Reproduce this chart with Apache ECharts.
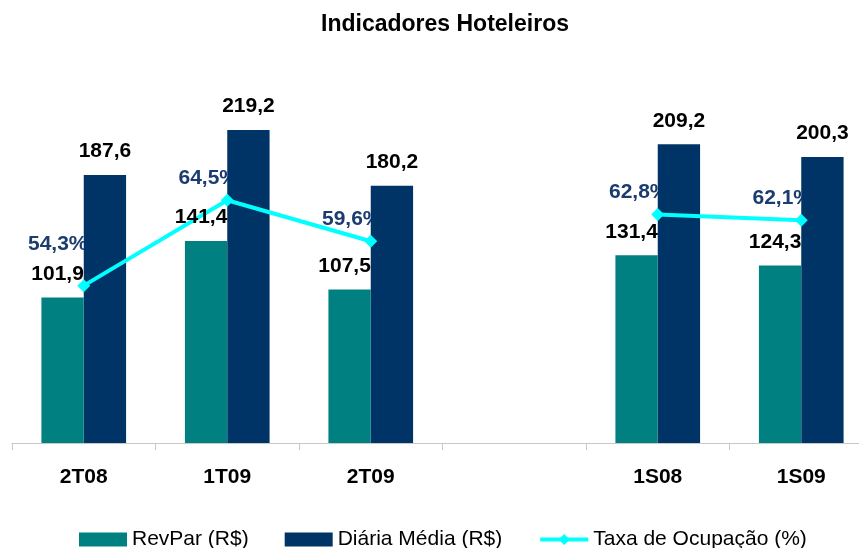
<!DOCTYPE html>
<html>
<head>
<meta charset="utf-8">
<script src="https://cdn.jsdelivr.net/npm/echarts@6/dist/echarts.min.js"></script>
<style>
  html, body { margin: 0; padding: 0; background: #fff; }
  #main { width: 859px; height: 548px; }
</style>
</head>
<body>
<div id="main"></div>
<script>
var myChart = echarts.init(document.getElementById('main'), null, {renderer: 'canvas'});

// data (4th slot is the empty gap between quarters and semesters)
var categorias = ['2T08', '1T09', '2T09', '', '1S08', '1S09'];
var revpar = [101.9, 141.4, 107.5, null, 131.4, 124.3];
var diaria = [187.6, 219.2, 180.2, null, 209.2, 200.3];
var ocupacao = [54.3, 64.5, 59.6, null, 62.8, 62.1];

var fonte = 'Liberation Sans, Arial, sans-serif';

function virgula(v) {
    return v.toFixed(1).replace('.', ',');
}

// labels for the occupancy line (drawn under the bars like the original)
var ocupLabels = ocupacao.map(function (v, i) {
    if (v === null) return null;
    return {
        value: v,
        label: {offset: i === 0 ? [-26, -41] : [-19, -22]}
    };
});

var option = {
    backgroundColor: '#ffffff',
    animation: false,
    title: {
        text: 'Indicadores Hoteleiros',
        left: 440,
        textAlign: 'center',
        top: 8,
        textStyle: {
            fontFamily: fonte,
            fontSize: 23,
            fontWeight: 'bold',
            color: '#000'
        }
    },
    legend: {
        left: 74,
        top: 524,
        itemWidth: 48,
        itemHeight: 14,
        itemGap: 36,
        textStyle: {
            fontFamily: fonte,
            fontSize: 21,
            color: '#000'
        },
        data: [
            {name: 'RevPar (R$)', icon: 'rect'},
            {name: 'Diária Média (R$)', icon: 'rect'},
            {name: 'Taxa de Ocupação (%)', lineStyle: {width: 4, color: '#00FFFF'}}
        ]
    },
    grid: {
        left: 12,
        top: 86,
        width: 861,
        height: 357,
        outerBoundsMode: 'none'
    },
    xAxis: {
        type: 'category',
        data: categorias,
        axisLine: {lineStyle: {color: '#c8c8c8', width: 1}},
        axisTick: {show: true, length: 7, lineStyle: {color: '#c8c8c8'}},
        axisLabel: {
            margin: 24,
            fontFamily: fonte,
            fontSize: 21,
            fontWeight: 'bold',
            color: '#000'
        }
    },
    yAxis: [
        {type: 'value', min: 0, max: 250, show: false, splitLine: {show: false}},
        {type: 'value', min: 35.5, max: 78.15, show: false, splitLine: {show: false}}
    ],
    series: [
        {
            name: 'RevPar (R$)',
            type: 'bar',
            z: 6,
            data: revpar,
            barGap: '0%',
            barCategoryGap: '41%',
            itemStyle: {color: '#008080'},
            label: {
                show: true,
                position: 'top',
                distance: 13,
                offset: [-5, 0],
                fontFamily: fonte,
                fontSize: 21,
                fontWeight: 'bold',
                color: '#000',
                formatter: function (p) { return virgula(p.value); }
            }
        },
        {
            name: 'Diária Média (R$)',
            type: 'bar',
            z: 3,
            data: diaria,
            itemStyle: {color: '#003366'},
            label: {
                show: true,
                position: 'top',
                distance: 13,
                fontFamily: fonte,
                fontSize: 21,
                fontWeight: 'bold',
                color: '#000',
                formatter: function (p) { return virgula(p.value); }
            }
        },
        {
            name: 'Taxa de Ocupação (%)',
            type: 'line',
            z: 5,
            yAxisIndex: 1,
            data: ocupacao,
            connectNulls: false,
            symbol: 'diamond',
            symbolSize: 13,
            lineStyle: {color: '#00FFFF', width: 4},
            itemStyle: {color: '#00FFFF'}
        },
        {
            name: 'ocupLabel',
            type: 'scatter',
            z: 2,
            yAxisIndex: 1,
            data: ocupLabels,
            symbolSize: 1,
            itemStyle: {color: 'rgba(0,0,0,0)', opacity: 1},
            silent: true,
            label: {
                show: true,
                position: 'inside',
                opacity: 1,
                fontFamily: fonte,
                fontSize: 21,
                fontWeight: 'bold',
                color: '#1B3C6E',
                formatter: function (p) { return virgula(p.value) + '%'; }
            }
        }
    ]
};

myChart.setOption(option);
</script>
</body>
</html>
